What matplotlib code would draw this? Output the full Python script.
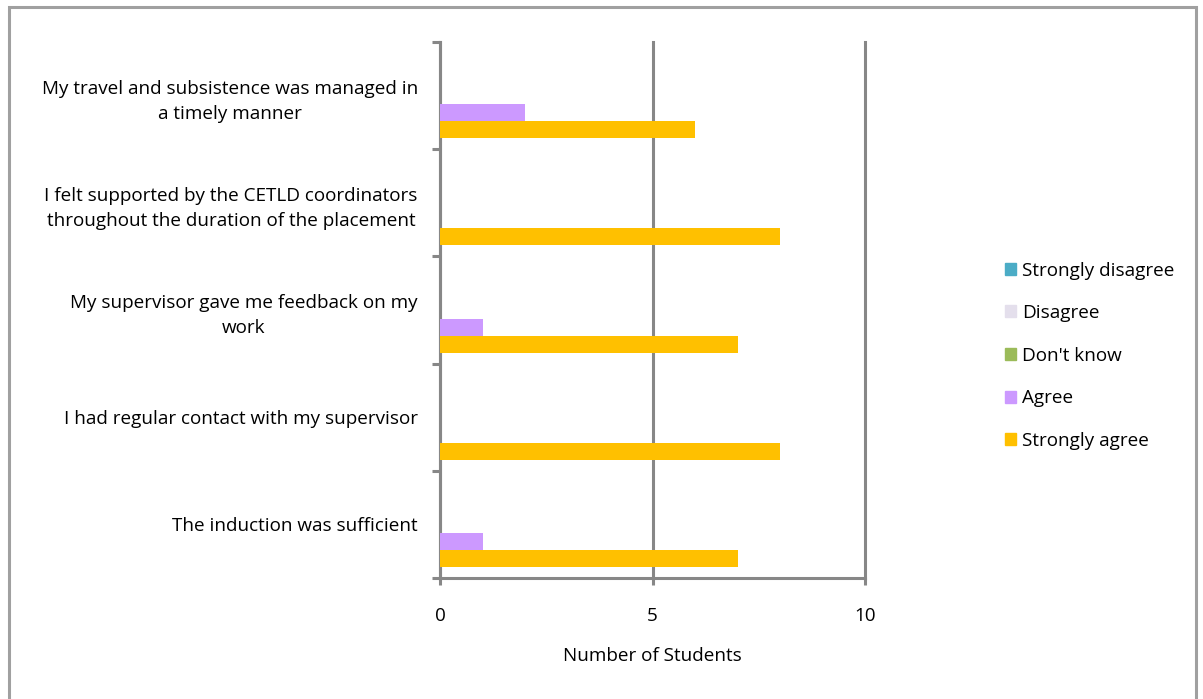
import numpy as np
import matplotlib.pyplot as plt
from matplotlib.patches import Rectangle, Patch

plt.rcParams['font.family'] = ['Open Sans', 'DejaVu Sans']

statements = [
    "The induction was sufficient",
    "I had regular contact with my supervisor",
    "My supervisor gave me feedback on my\nwork",
    "I felt supported by the CETLD coordinators\nthroughout the duration of the placement",
    "My travel and subsistence was managed in\na timely manner",
]
responses = ["Strongly agree", "Agree", "Don't know", "Disagree", "Strongly disagree"]
strongly_agree = [7, 8, 7, 8, 6]
agree = [1, 0, 1, 0, 2]
dont_know = [0, 0, 0, 0, 0]
disagree = [0, 0, 0, 0, 0]
strongly_disagree = [0, 0, 0, 0, 0]
colours = ["#FFC000", "#CC99FF", "#9BBB59", "#E4DFEC", "#4BACC6"]

series = [strongly_agree, agree, dont_know, disagree, strongly_disagree]
axis_grey = "#878787"
fs = 13.6

fig = plt.figure(figsize=(12.03, 6.99), dpi=100)
ax = fig.add_axes([440 / 1203, 121 / 699, 425 / 1203, 536 / 699])

y = np.arange(len(statements))
h = 0.159
for i, (vals, col) in enumerate(zip(series, colours)):
    ax.barh(y + (i - 2) * h, vals, height=h, color=col, zorder=3)

ax.set_xlim(0, 10)
ax.set_ylim(-0.5, 4.5)
ax.set_xticks([0, 5, 10])
ax.set_yticks(np.arange(-0.5, 5, 1))
ax.set_yticklabels([])
ax.set_yticks(y, minor=True)
ax.set_yticklabels(statements, minor=True, ha='right', multialignment='center',
                   linespacing=1.5)
ax.tick_params(axis='y', which='minor', length=0, pad=16, labelsize=fs)
ax.tick_params(axis='y', which='major', length=6, width=2.2, color=axis_grey)
ax.tick_params(axis='x', length=5, width=2.2, color=axis_grey, pad=16, labelsize=fs)
ax.grid(axis='x', color=axis_grey, linewidth=2.2, zorder=1)
for gl in ax.get_xgridlines():
    gl.set_clip_on(False)
for side in ['top', 'right']:
    ax.spines[side].set_visible(False)
for side in ['left', 'bottom']:
    ax.spines[side].set_color(axis_grey)
    ax.spines[side].set_linewidth(2.2)
ax.set_xlabel("Number of Students", fontsize=fs, labelpad=16)

handles = [Patch(color=c, label=r) for r, c in zip(responses, colours)][::-1]
fig.legend(handles=handles, loc='upper left', bbox_to_anchor=(997 / 1203, 1 - 254 / 699),
           frameon=False, fontsize=fs, handlelength=0.6, handleheight=0.6,
           handletextpad=0.35, labelspacing=1.3, borderaxespad=0)

# outer chart border
fig.patches.append(Rectangle((9 / 1203, -0.05), 1187 / 1203, 1.05 - 7 / 699,
                             transform=fig.transFigure, fill=False,
                             edgecolor="#A0A0A0", linewidth=2.2))

fig.savefig("out.png", dpi=100)
